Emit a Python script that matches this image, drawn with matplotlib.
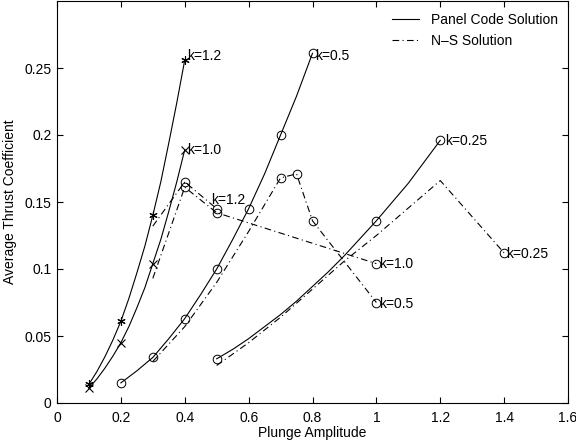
import matplotlib.pyplot as plt
from matplotlib.lines import Line2D

plt.rcParams['font.family'] = ['Liberation Sans', 'DejaVu Sans']
plt.rcParams['font.size'] = 10

# Panel code results (thrust coefficient vs plunge amplitude)
h_k12 = [0.1, 0.125, 0.15, 0.175, 0.2, 0.225, 0.25, 0.275, 0.3, 0.325,
         0.35, 0.375, 0.4]
ct_k12 = [0.014, 0.0235, 0.0345, 0.047, 0.061, 0.078, 0.097, 0.117, 0.140,
          0.165, 0.194, 0.224, 0.256]
h_k10 = [0.1, 0.125, 0.15, 0.175, 0.2, 0.225, 0.25, 0.275, 0.3, 0.325,
         0.35, 0.375, 0.4]
ct_k10 = [0.011, 0.018, 0.026, 0.035, 0.045, 0.057, 0.071, 0.086, 0.104,
          0.122, 0.143, 0.165, 0.189]
h_k05 = [0.2, 0.25, 0.3, 0.35, 0.4, 0.45, 0.5, 0.55, 0.6, 0.65, 0.7, 0.75, 0.8]
ct_k05 = [0.015, 0.024, 0.034, 0.048, 0.063, 0.081, 0.100, 0.122, 0.145,
          0.171, 0.200, 0.229, 0.261]
h_k025 = [0.5, 0.55, 0.6, 0.65, 0.7, 0.75, 0.8, 0.85, 0.9, 0.95, 1.0,
          1.05, 1.1, 1.15, 1.2]
ct_k025 = [0.033, 0.040, 0.048, 0.057, 0.066, 0.076, 0.087, 0.098, 0.110,
           0.123, 0.136, 0.150, 0.164, 0.180, 0.196]

# Navier-Stokes results
ns_h_k12 = [0.3, 0.4, 0.5]
ns_ct_k12 = [0.132, 0.165, 0.145]
ns_h_k10 = [0.3, 0.4, 0.5, 1.0]
ns_ct_k10 = [0.093, 0.161, 0.142, 0.104]
ns_h_k05 = [0.3, 0.4, 0.5, 0.6, 0.7, 0.75, 0.8, 1.0]
ns_ct_k05 = [0.031, 0.057, 0.090, 0.128, 0.168, 0.171, 0.136, 0.075]
ns_h_k025 = [0.5, 0.6, 0.7, 0.8, 0.9, 1.0, 1.2, 1.4]
ns_ct_k025 = [0.028, 0.045, 0.064, 0.085, 0.106, 0.125, 0.166, 0.112]

xticks = [0, 0.2, 0.4, 0.6, 0.8, 1.0, 1.2, 1.4, 1.6]
xtick_labels = ['0', '0.2', '0.4', '0.6', '0.8', '1', '1.2', '1.4', '1.6']
yticks = [0, 0.05, 0.1, 0.15, 0.2, 0.25]
ytick_labels = ['0', '0.05', '0.1', '0.15', '0.2', '0.25']

asterisk = (6, 2, 0)
dashdot = (0, (6, 3, 1, 3))
lw = 0.8
circ = dict(marker='o', ms=6.2, mew=0.7, mfc='none')

fig = plt.figure(figsize=(5.76, 4.45), dpi=100)
ax = fig.add_axes([57 / 576, 42 / 445, 511 / 576, 402 / 445])

# solid panel code curves, markers only at the computed amplitudes
ax.plot(h_k12, ct_k12, '-', color='k', lw=lw, marker=asterisk, ms=6,
        mew=0.8, markevery=[0, 4, 8, 12])
ax.plot(h_k10, ct_k10, '-', color='k', lw=lw, marker='x', ms=6, mew=0.8,
        markevery=[0, 4, 8, 12])
ax.plot(h_k05, ct_k05, '-', color='k', lw=lw, markevery=[0, 2, 4, 6, 8, 10, 12],
        **circ)
ax.plot(h_k025, ct_k025, '-', color='k', lw=lw, markevery=[0, 10, 14], **circ)

# dash-dot N-S curves
ax.plot(ns_h_k12, ns_ct_k12, color='k', ls=dashdot, lw=lw, markevery=[1, 2],
        **circ)
ax.plot(ns_h_k10, ns_ct_k10, color='k', ls=dashdot, lw=lw,
        markevery=[1, 2, 3], **circ)
ax.plot(ns_h_k05, ns_ct_k05, color='k', ls=dashdot, lw=lw,
        markevery=[4, 5, 6, 7], **circ)
ax.plot(ns_h_k025, ns_ct_k025, color='k', ls=dashdot, lw=lw, markevery=[7],
        **circ)

# curve labels
def label(x, y, text, dx, dy):
    ax.annotate(text, (x, y), xytext=(dx, dy), textcoords='offset points',
                ha='left', va='center', fontsize=10)

label(h_k12[-1], ct_k12[-1], 'k=1.2', 2, 3)
label(h_k10[-1], ct_k10[-1], 'k=1.0', 2, 0)
label(h_k05[-1], ct_k05[-1], 'k=0.5', 2, -2)
label(h_k025[-1], ct_k025[-1], 'k=0.25', 3.5, -0.7)
label(ns_h_k12[-1], ns_ct_k12[-1], 'k=1.2', -4.3, 6)
label(ns_h_k10[-1], ns_ct_k10[-1], 'k=1.0', 2, 0)
label(ns_h_k05[-1], ns_ct_k05[-1], 'k=0.5', 2, -1)
label(ns_h_k025[-1], ns_ct_k025[-1], 'k=0.25', 1.5, -0.7)

ax.set_xlim(0, 1.6)
ax.set_ylim(0, 0.3)
ax.set_xticks(xticks)
ax.set_xticklabels(xtick_labels)
ax.set_yticks(yticks)
ax.set_yticklabels(ytick_labels)
ax.tick_params(direction='in', length=4, width=0.8, top=True, right=True,
               labelsize=10, pad=4)
ax.tick_params(axis='x', pad=6)
for s in ax.spines.values():
    s.set_linewidth(0.8)

ax.set_xlabel('Plunge Amplitude', fontsize=10, labelpad=0.5)
ax.set_ylabel('Average Thrust Coefficient', fontsize=10, labelpad=5)

handles = [Line2D([], [], color='k', lw=lw, ls='-'),
           Line2D([], [], color='k', lw=lw, ls=dashdot)]
ax.legend(handles, ['Panel Code Solution', 'N\u2013S Solution'],
          loc='upper left', bbox_to_anchor=(0.644, 0.985), frameon=False,
          handlelength=2.0, handletextpad=0.8, labelspacing=0.55,
          borderaxespad=0, fontsize=10)

fig.savefig('out.png', dpi=100)
